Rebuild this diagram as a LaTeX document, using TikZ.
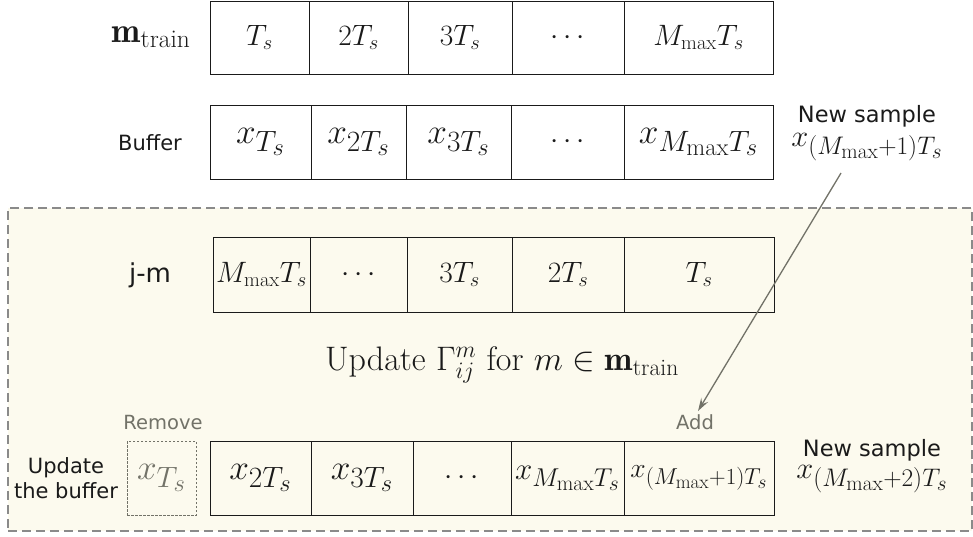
\RequirePackage{fix-cm}
\documentclass[tikz,border=0pt]{standalone}
\usepackage{fontspec}
\newfontfamily\dejavu{DejaVu Sans}
\usetikzlibrary{arrows.meta}
\DeclareMathSizes{29.5}{29.5}{20.5}{17}
\DeclareMathSizes{35.3}{35.3}{29.4}{24.5}
\DeclareMathSizes{31}{31}{25.8}{21.5}
\DeclareMathSizes{27.6}{27.6}{23}{19.2}
\DeclareMathSizes{30.5}{30.5}{25.4}{21.2}
\DeclareMathSizes{34}{34}{23.6}{19.7}
\DeclareMathSizes{35}{35}{25.5}{20}
\definecolor{cream}{HTML}{FCFAEE}
\definecolor{framegray}{HTML}{8A8A8A}
\definecolor{labgray}{HTML}{727268}
\definecolor{ink}{HTML}{1A1A1A}
\newcommand{\smallcell}{\fontsize{29.5}{34}\selectfont}
\newcommand{\bigcell}{\fontsize{35.3}{40}\selectfont}
\begin{document}
\begin{tikzpicture}[x=1pt,y=-1pt,
  cell/.style={draw=ink, line width=1pt, inner sep=0pt, text=ink, font=\smallcell},
  bcell/.style={cell, font=\bigcell},
  sanslab/.style={font=\dejavu\fontsize{21}{25}\selectfont, text=ink, inner sep=0pt, align=center},
  graylab/.style={font=\dejavu\fontsize{19.5}{22}\selectfont, text=labgray, inner sep=0pt},
  mathlab/.style={font=\fontsize{30.5}{35}\selectfont, text=ink, inner sep=0pt}]
\useasboundingbox (0,0) rectangle (973,536);
% frame
\node[draw=framegray, fill=cream, line width=1.8pt, dash pattern=on 9pt off 5pt,
      minimum width=964pt, minimum height=323pt, inner sep=0pt] (frame) at (490,369.5) {};
% Row 1: m_train
\node[cell, minimum width=99pt, minimum height=73pt] (a1) at (259.5,37.5) {$T_s$};
\node[cell, minimum width=99pt, minimum height=73pt] (a2) at (358.5,37.5) {$2T_s$};
\node[cell, minimum width=104pt, minimum height=73pt] (a3) at (460,37.5) {$3T_s$};
\node[cell, minimum width=112pt, minimum height=73pt] (a4) at (568,37.5) {$\cdots$};
\node[cell, minimum width=149pt, minimum height=73pt] (a5) at (698.5,37.5) {$M_{\max}T_s$};
\node[mathlab, font=\fontsize{35}{40}\selectfont] (mtrain) at (151,37) {$\mathbf{m}_{\mathrm{train}}$};
% Row 2: buffer
\node[bcell, minimum width=101pt, minimum height=74pt] (b1) at (260.5,142) {$x_{T_s}$};
\node[bcell, minimum width=95pt, minimum height=74pt] (b2) at (358.5,142) {$x_{2T_s}$};
\node[bcell, minimum width=105pt, minimum height=74pt] (b3) at (458.5,142) {$x_{3T_s}$};
\node[cell, minimum width=113pt, minimum height=74pt] (b4) at (567.5,142) {$\cdots$};
\node[bcell, minimum width=149pt, minimum height=74pt] (b5) at (698.5,142) {$x_{M_{\max}T_s}$};
\node[sanslab] (buffer) at (150,143) {Buffer};
\node[sanslab, font=\dejavu\fontsize{22.5}{26}\selectfont] (ns1) at (867,116) {New sample};
\node[mathlab, anchor=base] (ns1m) at (867,146) {$x_{(M_{\max}+1)T_s}$};
% Row 3: j-m
\node[cell, minimum width=97pt, minimum height=75pt] (c1) at (261.5,274.5) {$M_{\max}T_s$};
\node[cell, minimum width=97pt, minimum height=75pt] (c2) at (358.5,274.5) {$\cdots$};
\node[cell, minimum width=105pt, minimum height=75pt] (c3) at (459.5,274.5) {$3T_s$};
\node[cell, minimum width=112pt, minimum height=75pt] (c4) at (568,274.5) {$2T_s$};
\node[cell, minimum width=150pt, minimum height=75pt] (c5) at (699,274.5) {$T_s$};
\node[sanslab, font=\dejavu\fontsize{26}{30}\selectfont] (jm) at (150,275) {j-m};
% update text
\node[mathlab, font=\fontsize{34}{38}\selectfont, anchor=base] (upd) at (502,370)
  {Update $\Gamma_{ij}^{m}$ for $m\in\mathbf{m}_{\mathrm{train}}$};
% Row 4: updated buffer
\node[draw=labgray, line width=0.8pt, dash pattern=on 2.5pt off 1.5pt, inner sep=0pt,
      minimum width=69pt, minimum height=74pt, text=labgray, font=\bigcell] (d0) at (161.5,478) {$x_{T_s}$};
\node[bcell, minimum width=101pt, minimum height=74pt] (d1) at (260.5,478) {$x_{2T_s}$};
\node[bcell, minimum width=102pt, minimum height=74pt] (d2) at (362,478) {$x_{3T_s}$};
\node[cell, minimum width=98pt, minimum height=74pt] (d3) at (462,478) {$\cdots$};
\node[cell, minimum width=113pt, minimum height=74pt, font=\fontsize{31}{35}\selectfont] (d4) at (567.5,478) {$x_{M_{\max}T_s}$};
\node[cell, minimum width=150pt, minimum height=74pt, font=\fontsize{27.6}{32}\selectfont] (d5) at (699,478) {$x_{(M_{\max}+1)T_s}$};
\node[sanslab] (updbuf) at (66,478) {Update\\the buffer};
\node[graylab] (remove) at (163,423) {Remove};
\node[graylab] (add) at (695,422) {Add};
\node[sanslab, font=\dejavu\fontsize{22.5}{26}\selectfont] (ns2) at (872,450) {New sample};
\node[mathlab, anchor=base] (ns2m) at (872,478) {$x_{(M_{\max}+2)T_s}$};
% arrow
\coordinate (arrS) at (841,173);
\coordinate (arrE) at (698,411);
\draw[draw=labgray, line width=1.3pt, -{Stealth[length=13pt,width=8pt,inset=5pt]}] (arrS) -- (arrE);
\end{tikzpicture}
\end{document}
